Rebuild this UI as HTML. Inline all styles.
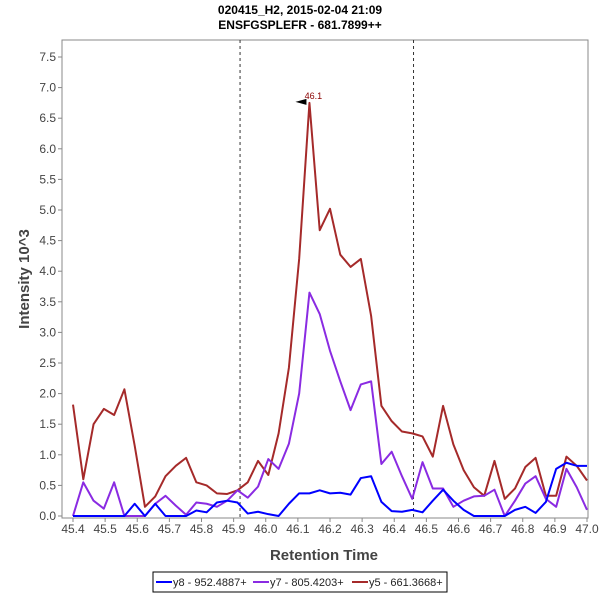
<!DOCTYPE html>
<html><head><meta charset="utf-8"><style>
body{margin:0;background:#fff;font-family:"Liberation Sans",sans-serif}
</style></head><body>
<svg id="chart" width="600" height="600" xmlns="http://www.w3.org/2000/svg"></svg>
<script>
const times=[45.400,45.432,45.464,45.496,45.528,45.560,45.592,45.624,45.656,45.688,45.720,45.752,45.784,45.816,45.848,45.880,45.912,45.944,45.976,46.008,46.040,46.072,46.104,46.136,46.168,46.200,46.232,46.264,46.296,46.328,46.360,46.392,46.424,46.456,46.488,46.520,46.552,46.584,46.616,46.648,46.680,46.712,46.744,46.776,46.808,46.840,46.872,46.904,46.936,46.968,47.000];
const y5=[1.82,0.6,1.5,1.75,1.65,2.07,1.15,0.15,0.32,0.65,0.82,0.95,0.55,0.5,0.37,0.36,0.42,0.55,0.9,0.67,1.35,2.42,4.2,6.75,4.67,5.02,4.27,4.07,4.2,3.27,1.8,1.55,1.38,1.35,1.3,0.97,1.8,1.17,0.75,0.47,0.33,0.9,0.28,0.45,0.8,0.95,0.33,0.33,0.97,0.82,0.58];
const y7=[0,0.55,0.25,0.12,0.55,0,0,0,0.2,0.33,0.17,0.02,0.22,0.2,0.15,0.25,0.42,0.3,0.48,0.93,0.77,1.18,2.0,3.65,3.3,2.7,2.2,1.73,2.15,2.2,0.85,1.05,0.65,0.28,0.88,0.45,0.45,0.15,0.25,0.32,0.33,0.43,0,0.25,0.53,0.65,0.28,0.15,0.77,0.47,0.1];
const y8=[0,0,0,0,0,0,0.2,0,0.2,0,0,0,0.09,0.06,0.22,0.25,0.22,0.04,0.07,0.03,0,0.2,0.37,0.37,0.42,0.37,0.38,0.35,0.62,0.65,0.23,0.08,0.07,0.1,0.06,0.25,0.43,0.25,0.1,0,0,0,0,0.1,0.15,0.05,0.23,0.77,0.87,0.82,0.82];
const xTicks=[45.4,45.5,45.6,45.7,45.8,45.9,46.0,46.1,46.2,46.3,46.4,46.5,46.6,46.7,46.8,46.9,47.0];
const yTicks=[0,0.5,1,1.5,2,2.5,3,3.5,4,4.5,5,5.5,6,6.5,7,7.5];
const markers=[45.92,46.46];
const peakTime=46.136, peakVal=6.75, peakLabel="46.1";
const seriesNames=["y8 - 952.4887+","y7 - 805.4203+","y5 - 661.3668+"];
const svg=document.getElementById('chart');
const NS="http://www.w3.org/2000/svg";
const L=62,R=588,T=40,B=518;
const xs=v=>73+(v-45.4)/1.6*514;
const ys=v=>516-v*61.2;
function mk(t,a,p){const e=document.createElementNS(NS,t);for(const k in a)e.setAttribute(k,a[k]);(p||svg).appendChild(e);return e;}
let e;
e=mk('text',{x:300,y:14,'text-anchor':'middle','font-size':12,'font-weight':'bold'});e.textContent="020415_H2, 2015-02-04 21:09";


e=mk('text',{x:300,y:29,'text-anchor':'middle','font-size':12,'font-weight':'bold'});e.textContent="ENSFGSPLEFR - 681.7899++";


e=mk('rect',{x:L,y:T,width:R-L,height:B-T,fill:'#fff',stroke:'#888','stroke-width':1});


xTicks.forEach(t=>{const x=xs(t);
 e=mk('line',{x1:x,x2:x,y1:B,y2:B+4,stroke:'#888'});
 
 
 e=mk('text',{x:x,y:B+15,'text-anchor':'middle','font-size':12,fill:'#444'});e.textContent=t.toFixed(1);
 
 
});
yTicks.forEach(t=>{const y=ys(t);
 e=mk('line',{x1:L-4,x2:L,y1:y,y2:y,stroke:'#888'});
 
 
 e=mk('text',{x:L-6,y:y+4,'text-anchor':'end','font-size':12,fill:'#444'});e.textContent=t.toFixed(1);
 
 
});
e=mk('text',{x:324,y:560,'text-anchor':'middle','font-size':15,'font-weight':'bold',fill:'#444'});e.textContent="Retention Time";


e=mk('text',{x:0,y:0,'text-anchor':'middle','font-size':15,'font-weight':'bold',fill:'#444',transform:'translate(29,279) rotate(-90)'});e.textContent="Intensity 10^3";


markers.forEach(m=>{
 e=mk('line',{x1:xs(m),x2:xs(m),y1:T,y2:B,stroke:'#333','stroke-dasharray':'3,3'});
 
 
});
const colors=['#0000ff','#8a2be2','#a52a2a'];
[[y8,'y8-series'],[y7,'y7-series'],[y5,'y5-series']].reverse().forEach(([d,n],k)=>{
 const idx=2-k;
 e=mk('polyline',{points:d.map((v,i)=>xs(times[i])+','+ys(v)).join(' '),fill:'none',stroke:colors[idx],'stroke-width':2,'stroke-linejoin':'round'});
 
 
});
const px=xs(peakTime),py=ys(peakVal);
e=mk('text',{x:px+4,y:py-4,'text-anchor':'middle','font-size':9,fill:'#8b0000'});e.textContent=peakLabel;


e=mk('polygon',{points:(px-14)+','+(py-1)+' '+(px-3)+','+(py-4)+' '+(px-3)+','+(py+2),fill:'#000'});


const lg=mk('g',{});


mk('rect',{x:153,y:572,width:294,height:20,fill:'#fff',stroke:'#000'},lg);
const lx=[156,253,352];
seriesNames.forEach((n,i)=>{
 e=mk('line',{x1:lx[i],x2:lx[i]+16,y1:582,y2:582,stroke:colors[i],'stroke-width':2},lg);
 
 
 e=mk('text',{x:lx[i]+17,y:586,'font-size':11,fill:'#222'},lg);e.textContent=n;
 
 
});
</script>
</body></html>
